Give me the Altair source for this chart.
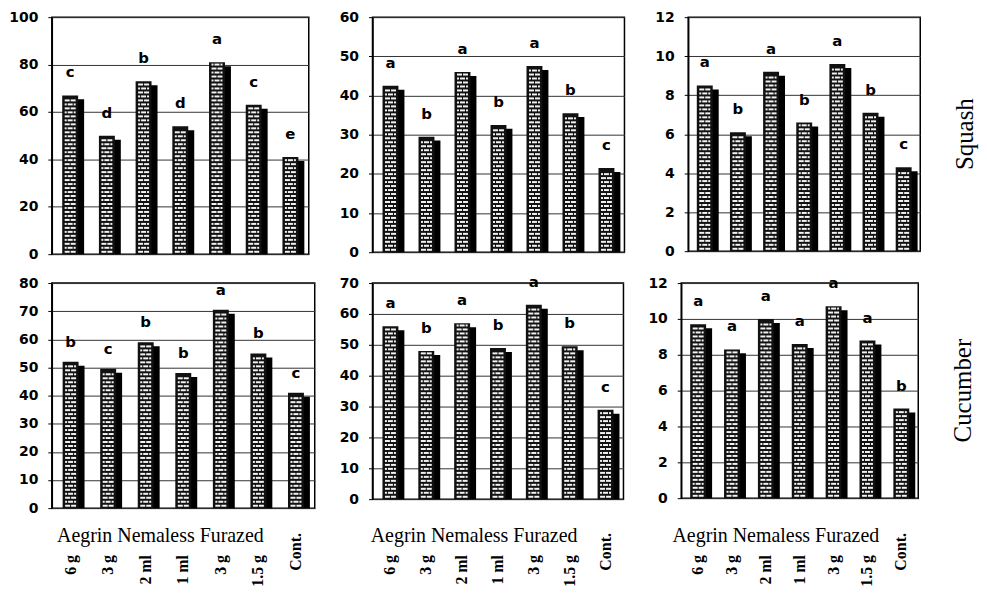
import altair as alt
import pandas as pd

# ---------------- data ----------------
cats = ["Aegrin 6 g", "Aegrin 3 g", "Nemaless 2 ml", "Nemaless 1 ml",
        "Furazed 3 g", "Furazed 1.5 g", "Control"]
dose_labels = ["6 g", "3 g", "2 ml", "1 ml", "3 g", "1.5 g", "Cont."]
group_title = "Aegrin Nemaless Furazed"
row_labels = ["Squash", "Cucumber"]

squash_1 = [67, 50, 73, 54, 81, 63, 41]
squash_1_letters = ["c", "d", "b", "d", "a", "c", "e"]
squash_1_ticks = [0, 20, 40, 60, 80, 100]

squash_2 = [42.5, 29.5, 46, 32.5, 47.5, 35.5, 21.5]
squash_2_letters = ["a", "b", "a", "b", "a", "b", "c"]
squash_2_ticks = [0, 10, 20, 30, 40, 50, 60]

squash_3 = [8.5, 6.1, 9.2, 6.6, 9.6, 7.1, 4.3]
squash_3_letters = ["a", "b", "a", "b", "a", "b", "c"]
squash_3_ticks = [0, 2, 4, 6, 8, 10, 12]

cucumber_1 = [52, 49.5, 59, 48, 70.5, 55, 41]
cucumber_1_letters = ["b", "c", "b", "b", "a", "b", "c"]
cucumber_1_ticks = [0, 10, 20, 30, 40, 50, 60, 70, 80]

cucumber_2 = [56, 48, 57, 49, 63, 49.5, 29]
cucumber_2_letters = ["a", "b", "a", "b", "a", "b", "c"]
cucumber_2_ticks = [0, 10, 20, 30, 40, 50, 60, 70]

cucumber_3 = [9.7, 8.3, 10, 8.6, 10.7, 8.8, 5]
cucumber_3_letters = ["a", "a", "a", "a", "a", "a", "b"]
cucumber_3_ticks = [0, 2, 4, 6, 8, 10, 12]

SANS = "DejaVu Sans"
SERIF = "Liberation Serif"


def panel(values, letters, yticks, w, h, letter_dy=-23, label_expr=None,
          bottom=False, title_x=None, row_label=None):
    ymax = yticks[-1]
    df = pd.DataFrame({"cat": cats, "v": values, "lt": letters, "dose": dose_labels})
    xenc = alt.X("cat:N", sort=cats,
                 scale=alt.Scale(domain=cats, paddingInner=0, paddingOuter=0),
                 axis=None)
    yscale = alt.Scale(domain=[0, ymax], nice=False, zero=True)
    axis_kw = dict(values=yticks, title=None, labelFont=SANS, labelFontWeight="bold",
                   labelFontSize=14, labelColor="black", labelPadding=10,
                   tickSize=4, tickColor="black", tickWidth=1,
                   domainColor="black", domainWidth=1.5,
                   gridColor="#333333", gridWidth=1)
    if label_expr:
        axis_kw["labelExpr"] = label_expr
    yaxis = alt.Axis(**axis_kw)

    base = alt.Chart(df)
    shadow = base.mark_bar(width=16, xOffset=6, yOffset=4, y2Offset=0, color="black").encode(
        x=xenc, y=alt.Y("v:Q", scale=yscale, axis=yaxis, stack=None))
    face = base.mark_bar(width=16, color="#111111").encode(
        x=xenc, y=alt.Y("v:Q", scale=yscale, axis=yaxis, stack=None))

    # brick texture rows inside each bar face
    rows = []
    step = ymax * 4.0 / h
    for c, v in zip(cats, values):
        k = 0
        while True:
            yy = step * (k + 0.6)
            if yy > v - step * 0.55:
                break
            rows.append({"cat": c, "ys": yy, "par": k % 2})
            k += 1
    sdf = pd.DataFrame(rows)
    even = alt.Chart(sdf).transform_filter("datum.par == 0")
    odd = alt.Chart(sdf).transform_filter("datum.par == 1")

    def brick(src, off, size):
        return src.mark_tick(xOffset=off, size=size, thickness=2, color="#f2f2f2",
                             opacity=1).encode(
            x=xenc, y=alt.Y("ys:Q", scale=yscale, axis=yaxis))

    bricks = [brick(even, -3, 5), brick(even, 3, 5),
              brick(odd, -4.5, 2), brick(odd, 0, 5), brick(odd, 4.5, 2)]

    let = base.mark_text(dy=letter_dy, font=SANS, fontWeight="bold", fontSize=15,
                         color="black").encode(
        x=xenc, y=alt.Y("v:Q", scale=yscale, axis=yaxis), text="lt:N")

    layers = [shadow, face] + bricks + [let]

    if bottom:
        tstyle = dict(angle=270, align="right", baseline="middle", font=SERIF,
                      fontWeight="bold", fontSize=16, color="black")
        doses = base.transform_filter("datum.cat != 'Control'").mark_text(**tstyle).encode(
            x=xenc, y=alt.value(273), text="dose:N")
        cont = base.transform_filter("datum.cat == 'Control'").mark_text(**tstyle).encode(
            x=xenc, y=alt.value(251), text="dose:N")
        title = alt.Chart(pd.DataFrame({"t": [group_title]})).mark_text(
            font=SERIF, fontSize=20, color="black", align="center", baseline="middle").encode(
            x=alt.value(title_x), y=alt.value(254), text="t:N")
        layers += [doses, cont, title]

    if row_label:
        rl = alt.Chart(pd.DataFrame({"t": [row_label]})).mark_text(
            angle=270, font=SERIF, fontSize=25, color="black", align="center",
            baseline="middle").encode(
            x=alt.value(w + 45), y=alt.value(h / 2), text="t:N")
        layers.append(rl)

    return alt.layer(*layers).properties(width=w, height=h)


p1 = panel(squash_1, squash_1_letters, squash_1_ticks, 258, 238)
p2 = panel(squash_2, squash_2_letters, squash_2_ticks, 253, 236)
p3 = panel(squash_3, squash_3_letters, squash_3_ticks, 233, 235, row_label=row_labels[0])

pad_expr = "'\u2007' + datum.label"
p4 = panel(cucumber_1, cucumber_1_letters, cucumber_1_ticks, 264, 226, letter_dy=-20,
           label_expr=pad_expr, bottom=True, title_x=109)
p5 = panel(cucumber_2, cucumber_2_letters, cucumber_2_ticks, 252, 217,
           bottom=True, title_x=102)
p6 = panel(cucumber_3, cucumber_3_letters, cucumber_3_ticks, 238, 216,
           bottom=True, title_x=95, row_label=row_labels[1])

top = alt.hconcat(p1, p2, p3, spacing=28)
bottom_row = alt.hconcat(p4, p5, p6, spacing=22)

chart = alt.vconcat(top, bottom_row, spacing=11).properties(
    padding={"left": 0, "top": 0, "right": 0, "bottom": 0},
    background="white",
).configure_view(stroke="black", strokeWidth=1.5)

chart.save("out.html", embed_options={"renderer": "svg", "actions": False})
